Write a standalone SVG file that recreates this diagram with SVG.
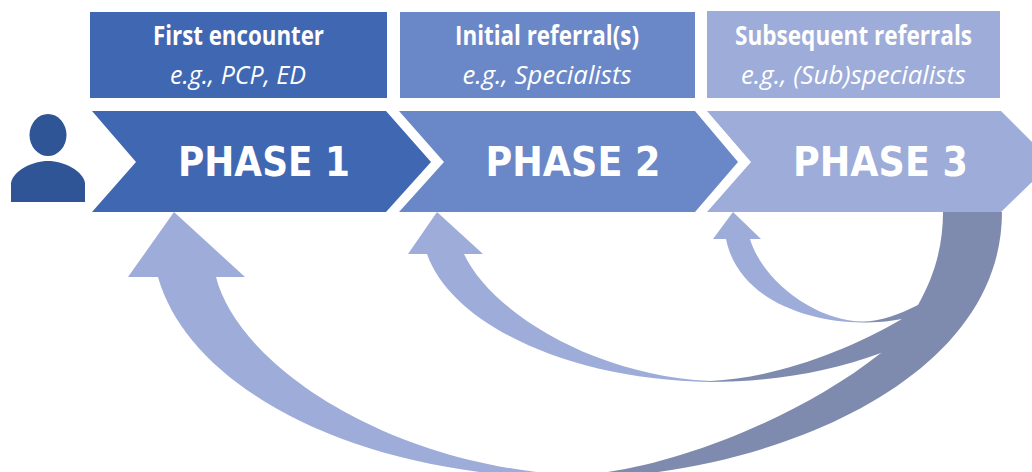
<svg xmlns="http://www.w3.org/2000/svg" width="1032" height="472" viewBox="0 0 1032 472">
<style>
.t{font-family:"Open Sans","Noto Sans","Liberation Sans",sans-serif;fill:#fff;text-anchor:middle}
.h{font-size:26px;font-weight:700}
.s{font-size:26px;font-style:italic}
.p{font-family:"DejaVu Sans","Liberation Sans",sans-serif;font-size:40px;font-weight:700}
.c1{fill:#4068b2}.c2{fill:#6a87c8}.c3{fill:#9dacd9}
</style>
<defs>
<linearGradient id="g1" gradientUnits="userSpaceOnUse" x1="540" y1="0" x2="600" y2="0"><stop offset="0" stop-color="#9dacd9"/><stop offset="1" stop-color="#7f8bae"/></linearGradient>
<linearGradient id="g2" gradientUnits="userSpaceOnUse" x1="690" y1="0" x2="730" y2="0"><stop offset="0" stop-color="#9dacd9"/><stop offset="1" stop-color="#7f8bae"/></linearGradient>
<linearGradient id="g3" gradientUnits="userSpaceOnUse" x1="850" y1="0" x2="875" y2="0"><stop offset="0" stop-color="#9dacd9"/><stop offset="1" stop-color="#7f8bae"/></linearGradient>
</defs>
<g id="connectors">
<path fill="url(#g3)" d="M733 212L761 239H750C762 280 815 321 863 321.500C880 321.500 900 314 918 305L935 320L902 319C890 321.500 875 322.500 863 322.500C805 322 738 298 726 239H713Z"/>
<path fill="url(#g2)" d="M437 212L483 254H464C490 310 590 375 710 381C775 378 845 352 902 319L935 325L881 353C830 372 770 382 710 382C570 380 452 325 427 254H408Z"/>
<path fill="url(#g1)" d="M174 212L245 277H216C238 364 385 464 570 475C650 475 790 425 881 353L902 319L918 305C935 275 943 245 943 212H1002C1002 390 750 478 575 478C360 478 190 390 158 277H128Z"/>
</g>
<g id="person"><ellipse cx="48" cy="135" rx="18.500" ry="21" fill="#2f5597"/><path fill="#2f5597" d="M11 202V183C13 171 32 161 48 161C64 161 83 171 85 183V202Z"/></g>
<g id="box1"><rect class="c1" x="90" y="12" width="297" height="86"/><text class="t h" x="238.500" y="45" textLength="171" lengthAdjust="spacingAndGlyphs">First encounter</text><text class="t s" x="238" y="84" textLength="136" lengthAdjust="spacingAndGlyphs">e.g., PCP, ED</text></g>
<g id="box2"><rect class="c2" x="400" y="12" width="295" height="86"/><text class="t h" x="547" y="45" textLength="184" lengthAdjust="spacingAndGlyphs">Initial referral(s)</text><text class="t s" x="547" y="84" textLength="169" lengthAdjust="spacingAndGlyphs">e.g., Specialists</text></g>
<g id="box3"><rect class="c3" x="707" y="11" width="293" height="87"/><text class="t h" x="853.500" y="45" textLength="237" lengthAdjust="spacingAndGlyphs">Subsequent referrals</text><text class="t s" x="853.500" y="84" textLength="225" lengthAdjust="spacingAndGlyphs">e.g., (Sub)specialists</text></g>
<g id="phase1"><polygon class="c1" points="92,111 386,111 431,162 386,212 92,212 136,162"/><text class="t p" x="264" y="176" textLength="172" lengthAdjust="spacingAndGlyphs">PHASE 1</text></g>
<g id="phase2"><polygon class="c2" points="399,111 695,111 738,162 695,212 399,212 444,162"/><text class="t p" x="573" y="176" textLength="175" lengthAdjust="spacingAndGlyphs">PHASE 2</text></g>
<g id="phase3"><polygon class="c3" points="707,111 1001,111 1032,142 1032,182 1001,212 707,212 751,162"/><text class="t p" x="880.500" y="176" textLength="175" lengthAdjust="spacingAndGlyphs">PHASE 3</text></g>
</svg>
